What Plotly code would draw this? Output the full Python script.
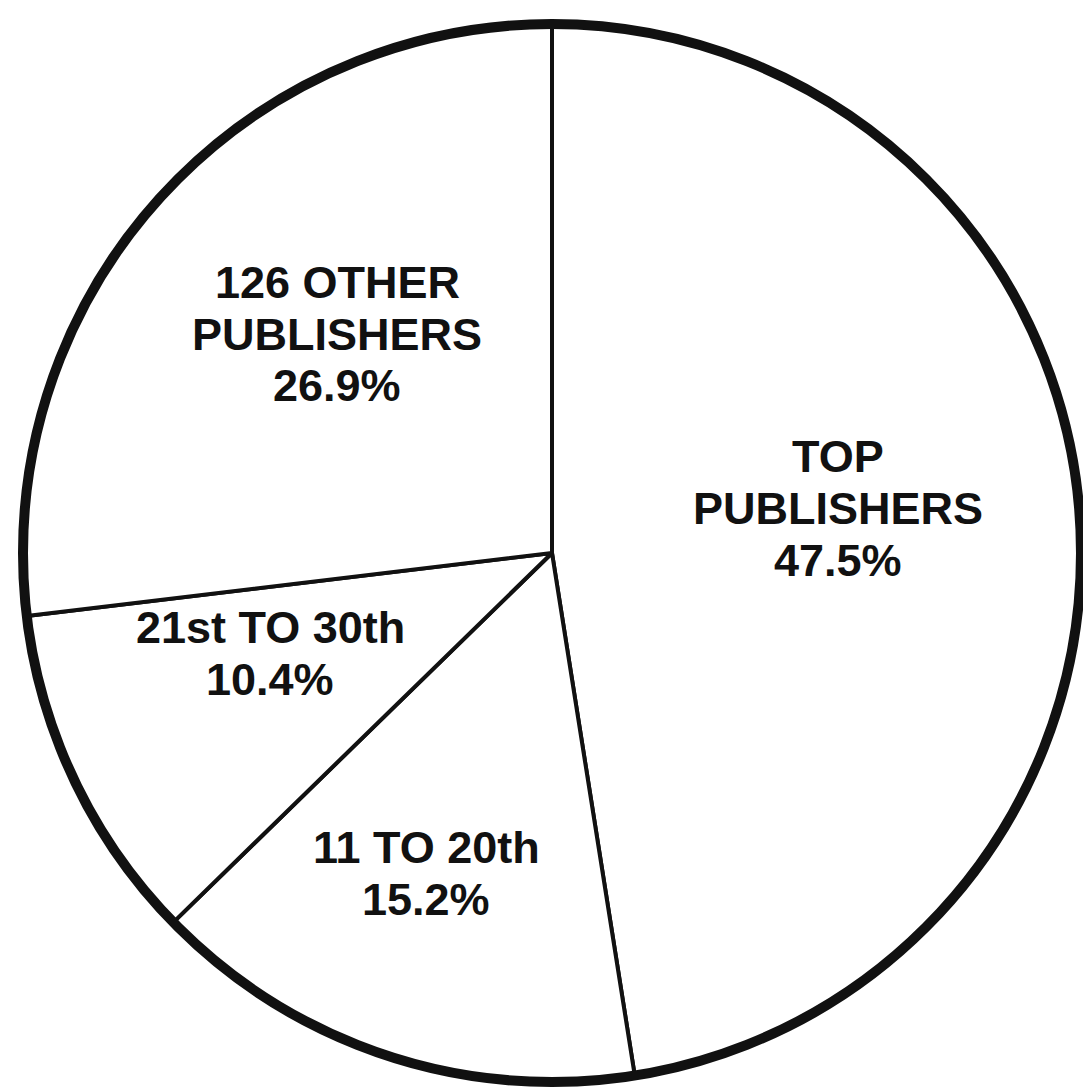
import plotly.graph_objects as go

# Share of the market by publisher group
label_lines = [
    ["TOP", "PUBLISHERS"],
    ["11 TO 20th"],
    ["21st TO 30th"],
    ["126 OTHER", "PUBLISHERS"],
]
shares = [47.5, 15.2, 10.4, 26.9]

# Label block centres in pixels (x, y from top)
label_centres = [(838, 508), (426, 873), (270, 653), (337, 334)]

W, H = 1083, 1088
CX, CY, R = 552, 553, 529
LINE_PITCH = 52
FONT = dict(family="Liberation Sans, Arial, sans-serif", size=45, color="#111111")


def px_x(x):
    return x / W


def px_y(y):
    return 1 - y / H


fig = go.Figure(
    go.Pie(
        labels=[" ".join(l) for l in label_lines],
        values=shares,
        sort=False,
        direction="clockwise",
        rotation=0,
        textinfo="none",
        marker=dict(colors=["white"] * len(shares), line=dict(color="#111111", width=4)),
        domain=dict(x=[px_x(CX - R), px_x(CX + R)], y=[px_y(CY + R), px_y(CY - R)]),
        showlegend=False,
    )
)

annotations = []
for lines, share, (cx, cy) in zip(label_lines, shares, label_centres):
    rows = lines + [f"{share:.1f}%"]
    n = len(rows)
    for i, row in enumerate(rows):
        y = cy + (i - (n - 1) / 2) * LINE_PITCH
        annotations.append(
            dict(
                x=px_x(cx), y=px_y(y), xref="paper", yref="paper",
                text=f"<b>{row}</b>", showarrow=False,
                xanchor="center", yanchor="middle", font=FONT,
            )
        )

fig.update_layout(
    width=W, height=H,
    margin=dict(l=0, r=0, t=0, b=0),
    paper_bgcolor="white", plot_bgcolor="white",
    annotations=annotations,
    shapes=[
        dict(
            type="circle", xref="paper", yref="paper",
            x0=px_x(CX - R), x1=px_x(CX + R), y0=px_y(CY + R), y1=px_y(CY - R),
            line=dict(color="#111111", width=10), layer="above",
        )
    ],
)

fig.write_html("out.html")
